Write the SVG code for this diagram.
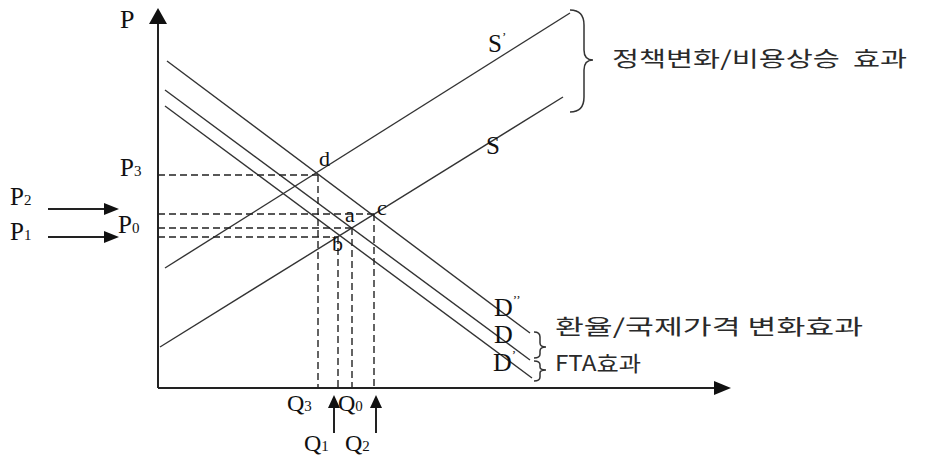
<svg xmlns="http://www.w3.org/2000/svg" width="928" height="460" viewBox="0 0 928 460">
<style>
.ax{stroke:#222;stroke-width:2;fill:none}
.ln{stroke:#333;stroke-width:1.4;fill:none}
.ds{stroke:#222;stroke-width:1.4;fill:none;stroke-dasharray:7,4}
.br{stroke:#333;stroke-width:1.5;fill:none}
.lb{font-family:"Liberation Serif","Times New Roman",serif;fill:#111}
.kr{font-family:"Noto Sans CJK KR","Noto Sans",sans-serif;fill:#2a2a2a;font-size:21px}
.hd{fill:#111}
</style>
<rect width="928" height="460" fill="#fff"/>
<g id="axes">
<line class="ax" x1="158" y1="388" x2="158" y2="20"/>
<polygon class="hd" points="158,8 149,24 167,24"/>
<line class="ax" x1="158" y1="388" x2="718" y2="388"/>
<polygon class="hd" points="731,388 714,381 714,395"/>
</g>
<g id="curves">
<line id="Dpp" class="ln" x1="167" y1="61" x2="530" y2="333"/>
<line id="D" class="ln" x1="165" y1="90" x2="530" y2="360"/>
<line id="Dp" class="ln" x1="165" y1="106" x2="532" y2="378"/>
<line id="Sp" class="ln" x1="165" y1="268" x2="570" y2="13"/>
<line id="S" class="ln" x1="160" y1="347" x2="563" y2="97"/>
</g>
<g id="guides">
<line class="ds" x1="158" y1="175" x2="318" y2="175"/>
<line class="ds" x1="158" y1="214" x2="374" y2="214"/>
<line class="ds" x1="158" y1="228" x2="352" y2="228"/>
<line class="ds" x1="158" y1="237" x2="338" y2="237"/>
<line class="ds" x1="318" y1="175" x2="318" y2="388"/>
<line class="ds" x1="338" y1="237" x2="338" y2="388"/>
<line class="ds" x1="352" y1="228" x2="352" y2="388"/>
<line class="ds" x1="374" y1="214" x2="374" y2="388"/>
</g>
<g id="arrows">
<line class="ax" x1="48" y1="209" x2="106" y2="209"/>
<polygon class="hd" points="119,209 104,203 104,215"/>
<line class="ax" x1="48" y1="237" x2="106" y2="237"/>
<polygon class="hd" points="119,237 104,231 104,243"/>
<line class="ax" x1="334" y1="433" x2="334" y2="405"/>
<polygon class="hd" points="334,395 328,408 340,408"/>
<line class="ax" x1="376" y1="433" x2="376" y2="405"/>
<polygon class="hd" points="376,395 370,408 382,408"/>
</g>
<g id="braces">
<path class="br" d="M570,10 Q584,10 584,25 L584,50 Q584,60 593,60 Q584,60 584,70 L584,97 Q584,112 570,112"/>
<path class="br" d="M534,332 Q540,332 540,337 L540,343 Q540,347 546,347 Q540,347 540,351 L540,354 Q540,358 534,358"/>
<path class="br" d="M534,361 Q540,361 540,365 L540,367 Q540,370 546,370 Q540,370 540,373 L540,377 Q540,381 534,381"/>
</g>
<g id="labels">
<text class="lb" x="120" y="28" font-size="26">P</text>
<text class="lb" x="120" y="176" font-size="25">P<tspan font-size="15">3</tspan></text>
<text class="lb" x="118" y="233" font-size="25">P<tspan font-size="15">0</tspan></text>
<text class="lb" x="10" y="205" font-size="25">P<tspan font-size="15">2</tspan></text>
<text class="lb" x="10" y="240" font-size="25">P<tspan font-size="15">1</tspan></text>
<text class="lb" x="287" y="411" font-size="24">Q<tspan font-size="15">3</tspan></text>
<text class="lb" x="338" y="411" font-size="24">Q<tspan font-size="15">0</tspan></text>
<text class="lb" x="304" y="451" font-size="24">Q<tspan font-size="15">1</tspan></text>
<text class="lb" x="345" y="451" font-size="24">Q<tspan font-size="15">2</tspan></text>
<text class="lb" x="319" y="166" font-size="22">d</text>
<text class="lb" x="345" y="222" font-size="22">a</text>
<text class="lb" x="377" y="215" font-size="22">c</text>
<text class="lb" x="332" y="251" font-size="22">b</text>
<text class="lb" x="488" y="52" font-size="25">S<tspan font-size="13" dy="-11">’</tspan></text>
<text class="lb" x="486" y="154" font-size="25">S</text>
<text class="lb" x="494" y="316" font-size="26">D<tspan font-size="13" dy="-12">’’</tspan></text>
<text class="lb" x="494" y="343" font-size="26">D</text>
<text class="lb" x="493" y="371" font-size="26">D<tspan font-size="13" dy="-12">’</tspan></text>
<text class="kr" x="612" y="66" font-size="23" xml:space="preserve" textLength="295" lengthAdjust="spacingAndGlyphs">정책변화/비용상승  효과</text>
<text class="kr" x="555" y="334" textLength="308" lengthAdjust="spacingAndGlyphs">환율/국제가격 변화효과</text>
<text class="kr" x="555" y="371" textLength="86" lengthAdjust="spacingAndGlyphs">FTA효과</text>
</g>
</svg>
